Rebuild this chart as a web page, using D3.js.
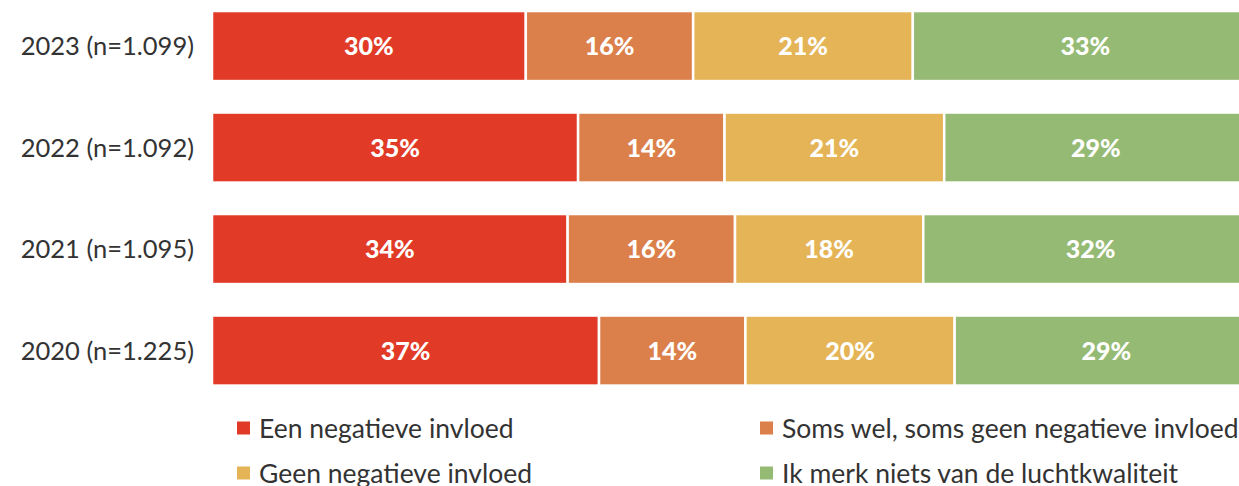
<!DOCTYPE html>
<html>
<head>
<meta charset="utf-8">
<script src="https://cdn.jsdelivr.net/npm/d3@7"></script>
<style>
  body { margin: 0; background: #fff; }
  svg { display: block; font-family: Lato, "Open Sans", sans-serif; }
</style>
</head>
<body>
<div id="chart"></div>
<script>
// Width and height
var w = 1239;
var h = 486;

// Data
var years = ["2023 (n=1.099)", "2022 (n=1.092)", "2021 (n=1.095)", "2020 (n=1.225)"];
var categories = ["Een negatieve invloed", "Soms wel, soms geen negatieve invloed", "Geen negatieve invloed", "Ik merk niets van de luchtkwaliteit"];
var negatief = [30, 35, 34, 37];
var somsWel = [16, 14, 16, 14];
var geenNegatief = [21, 21, 18, 20];
var merkNiets = [33, 29, 32, 29];
var colors = ["#e13a26", "#db7f4b", "#e4b457", "#95ba74"];

var series = [negatief, somsWel, geenNegatief, merkNiets];

// build rows for the stack
var rows = years.map(function(y, i) {
  var r = { year: y };
  categories.forEach(function(c, k) { r[c] = series[k][i]; });
  return r;
});

var stack = d3.stack().keys(categories);
var stacked = stack(rows);

// bars run off the right edge, like in the original
var x = d3.scaleLinear()
  .domain([0, 100])
  .range([212, 212 + 1046]);

var y = d3.scaleBand()
  .domain(years)
  .range([-4.7, 401.3])
  .paddingInner(0.31)
  .paddingOuter(0.155);

var color = d3.scaleOrdinal()
  .domain(categories)
  .range(colors);

var svg = d3.select("#chart")
  .append("svg")
  .attr("width", w)
  .attr("height", h);

var layer = svg.selectAll("g.layer")
  .data(stacked)
  .enter()
  .append("g")
  .attr("class", "layer")
  .attr("fill", function(d) { return color(d.key); });

layer.selectAll("rect")
  .data(function(d) { return d; })
  .enter()
  .append("rect")
  .attr("x", function(d) { return x(d[0]); })
  .attr("y", function(d) { return y(d.data.year); })
  .attr("width", function(d) { return x(d[1]) - x(d[0]); })
  .attr("height", y.bandwidth())
  .attr("stroke", "#fff")
  .attr("stroke-width", 2.5);

layer.selectAll("text")
  .data(function(d) { return d; })
  .enter()
  .append("text")
  .attr("x", function(d) { return (x(d[0]) + x(d[1])) / 2; })
  .attr("y", function(d) { return y(d.data.year) + y.bandwidth() / 2; })
  .attr("dy", "0.36em")
  .attr("text-anchor", "middle")
  .attr("fill", "#fff")
  .style("font-size", "25px")
  .style("font-weight", "900")
  .text(function(d) { return (d[1] - d[0]) + "%"; });

// year labels
svg.selectAll("text.year")
  .data(years)
  .enter()
  .append("text")
  .attr("class", "year")
  .attr("x", 194)
  .attr("y", function(d) { return y(d) + y.bandwidth() / 2; })
  .attr("dy", "0.36em")
  .attr("text-anchor", "end")
  .attr("fill", "#333")
  .style("font-size", "25.5px")
  .text(function(d) { return d; });

// legend
var legendPos = [[237, 428], [760, 428], [237, 473], [760, 473]];

var legend = svg.selectAll("g.legend")
  .data(categories)
  .enter()
  .append("g")
  .attr("class", "legend")
  .attr("transform", function(d, i) { return "translate(" + legendPos[i][0] + "," + legendPos[i][1] + ")"; });

legend.append("rect")
  .attr("x", 0)
  .attr("y", -6.5)
  .attr("width", 13)
  .attr("height", 13)
  .attr("fill", function(d) { return color(d); });

legend.append("text")
  .attr("x", 22)
  .attr("y", 0)
  .attr("dy", "0.36em")
  .attr("fill", "#333")
  .style("font-size", "26.5px")
  .text(function(d) { return d; });
</script>
</body>
</html>
